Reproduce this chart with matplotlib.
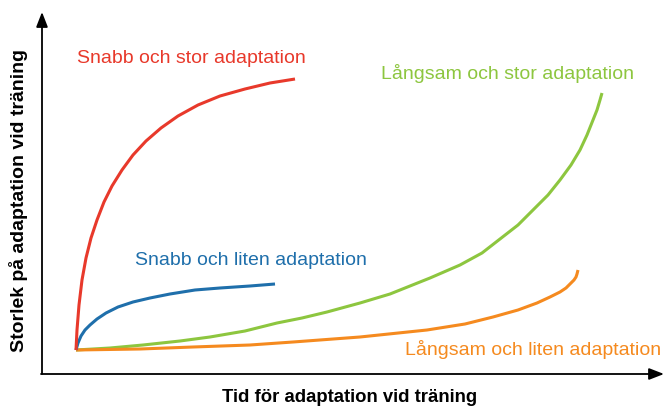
import matplotlib.pyplot as plt

plt.rcParams['font.family'] = ['Liberation Sans', 'DejaVu Sans']

H = 407
# curves (pixel x, pixel y from top)
red_x = [76, 77, 79, 82, 86, 91, 97, 104, 112, 122, 133, 146, 161, 178, 198, 220, 245, 270, 295]
red_y = [350, 330, 305, 280, 258, 238, 220, 202, 186, 170, 155, 141, 128, 116, 105, 96, 89, 83, 79]
blue_x = [76, 78, 81, 85, 90, 97, 106, 118, 133, 150, 170, 195, 220, 250, 275]
blue_y = [350, 343, 336, 330, 325, 319, 313, 307, 302, 298, 294, 290, 288, 286, 284]
green_x = [76, 110, 143, 180, 210, 245, 277, 302, 327, 360, 390, 430, 460, 482, 500, 518,
           533, 548, 560, 571, 580, 587, 593, 597, 600, 602]
green_y = [350, 348, 345, 341, 337, 331, 323, 318, 312, 303, 294, 278, 265, 253, 239, 225,
           210, 195, 180, 165, 150, 135, 120, 110, 100, 93]
orange_x = [76, 140, 193, 250, 293, 360, 427, 465, 493, 518, 537, 550, 560, 566, 570, 574, 576, 577, 578]
orange_y = [350, 349, 347, 345, 342, 337, 330, 324, 317, 310, 303, 297, 292, 288, 284, 280, 277, 274, 270]

red = '#e8392b'
blue = '#1f6fab'
green = '#8dc63f'
orange = '#f58a1f'

fig = plt.figure(figsize=(6.65, 4.07), dpi=100)
ax = fig.add_axes([0, 0, 1, 1])
ax.set_xlim(0, 665)
ax.set_ylim(0, H)
ax.axis('off')

def flip(ys):
    return [H - y for y in ys]

kw = dict(lw=2.2, solid_capstyle='butt', solid_joinstyle='round')
ax.plot(green_x, flip(green_y), color=green, **kw)
ax.plot(orange_x, flip(orange_y), color=orange, **kw)
ax.plot(blue_x, flip(blue_y), color=blue, **kw)
ax.plot(red_x, flip(red_y), color=red, **kw)

# axes arrows
arrow = dict(arrowstyle='-|>,head_length=0.9,head_width=0.35', color='black', lw=1.3,
             shrinkA=0, shrinkB=0)
ax.annotate('', xy=(42, H - 12), xytext=(42, H - 374), arrowprops=arrow)
ax.annotate('', xy=(664, H - 374), xytext=(41, H - 374), arrowprops=arrow)

ax.text(77, H - 63, 'Snabb och stor adaptation', color=red, fontsize=14, va='baseline')
ax.text(381, H - 79, 'Långsam och stor adaptation', color=green, fontsize=14, va='baseline')
ax.text(135, H - 265, 'Snabb och liten adaptation', color=blue, fontsize=14, va='baseline')
ax.text(405, H - 355, 'Långsam och liten adaptation', color=orange, fontsize=14, va='baseline')

ax.text(350, H - 398, 'Tid för adaptation vid träning', fontsize=13.3, fontweight='bold',
        ha='center', va='center')
ax.text(19, H - 201, 'Storlek på adaptation vid träning', fontsize=14, fontweight='bold',
        ha='center', va='center', rotation=90)

fig.savefig('out.png', dpi=100)
